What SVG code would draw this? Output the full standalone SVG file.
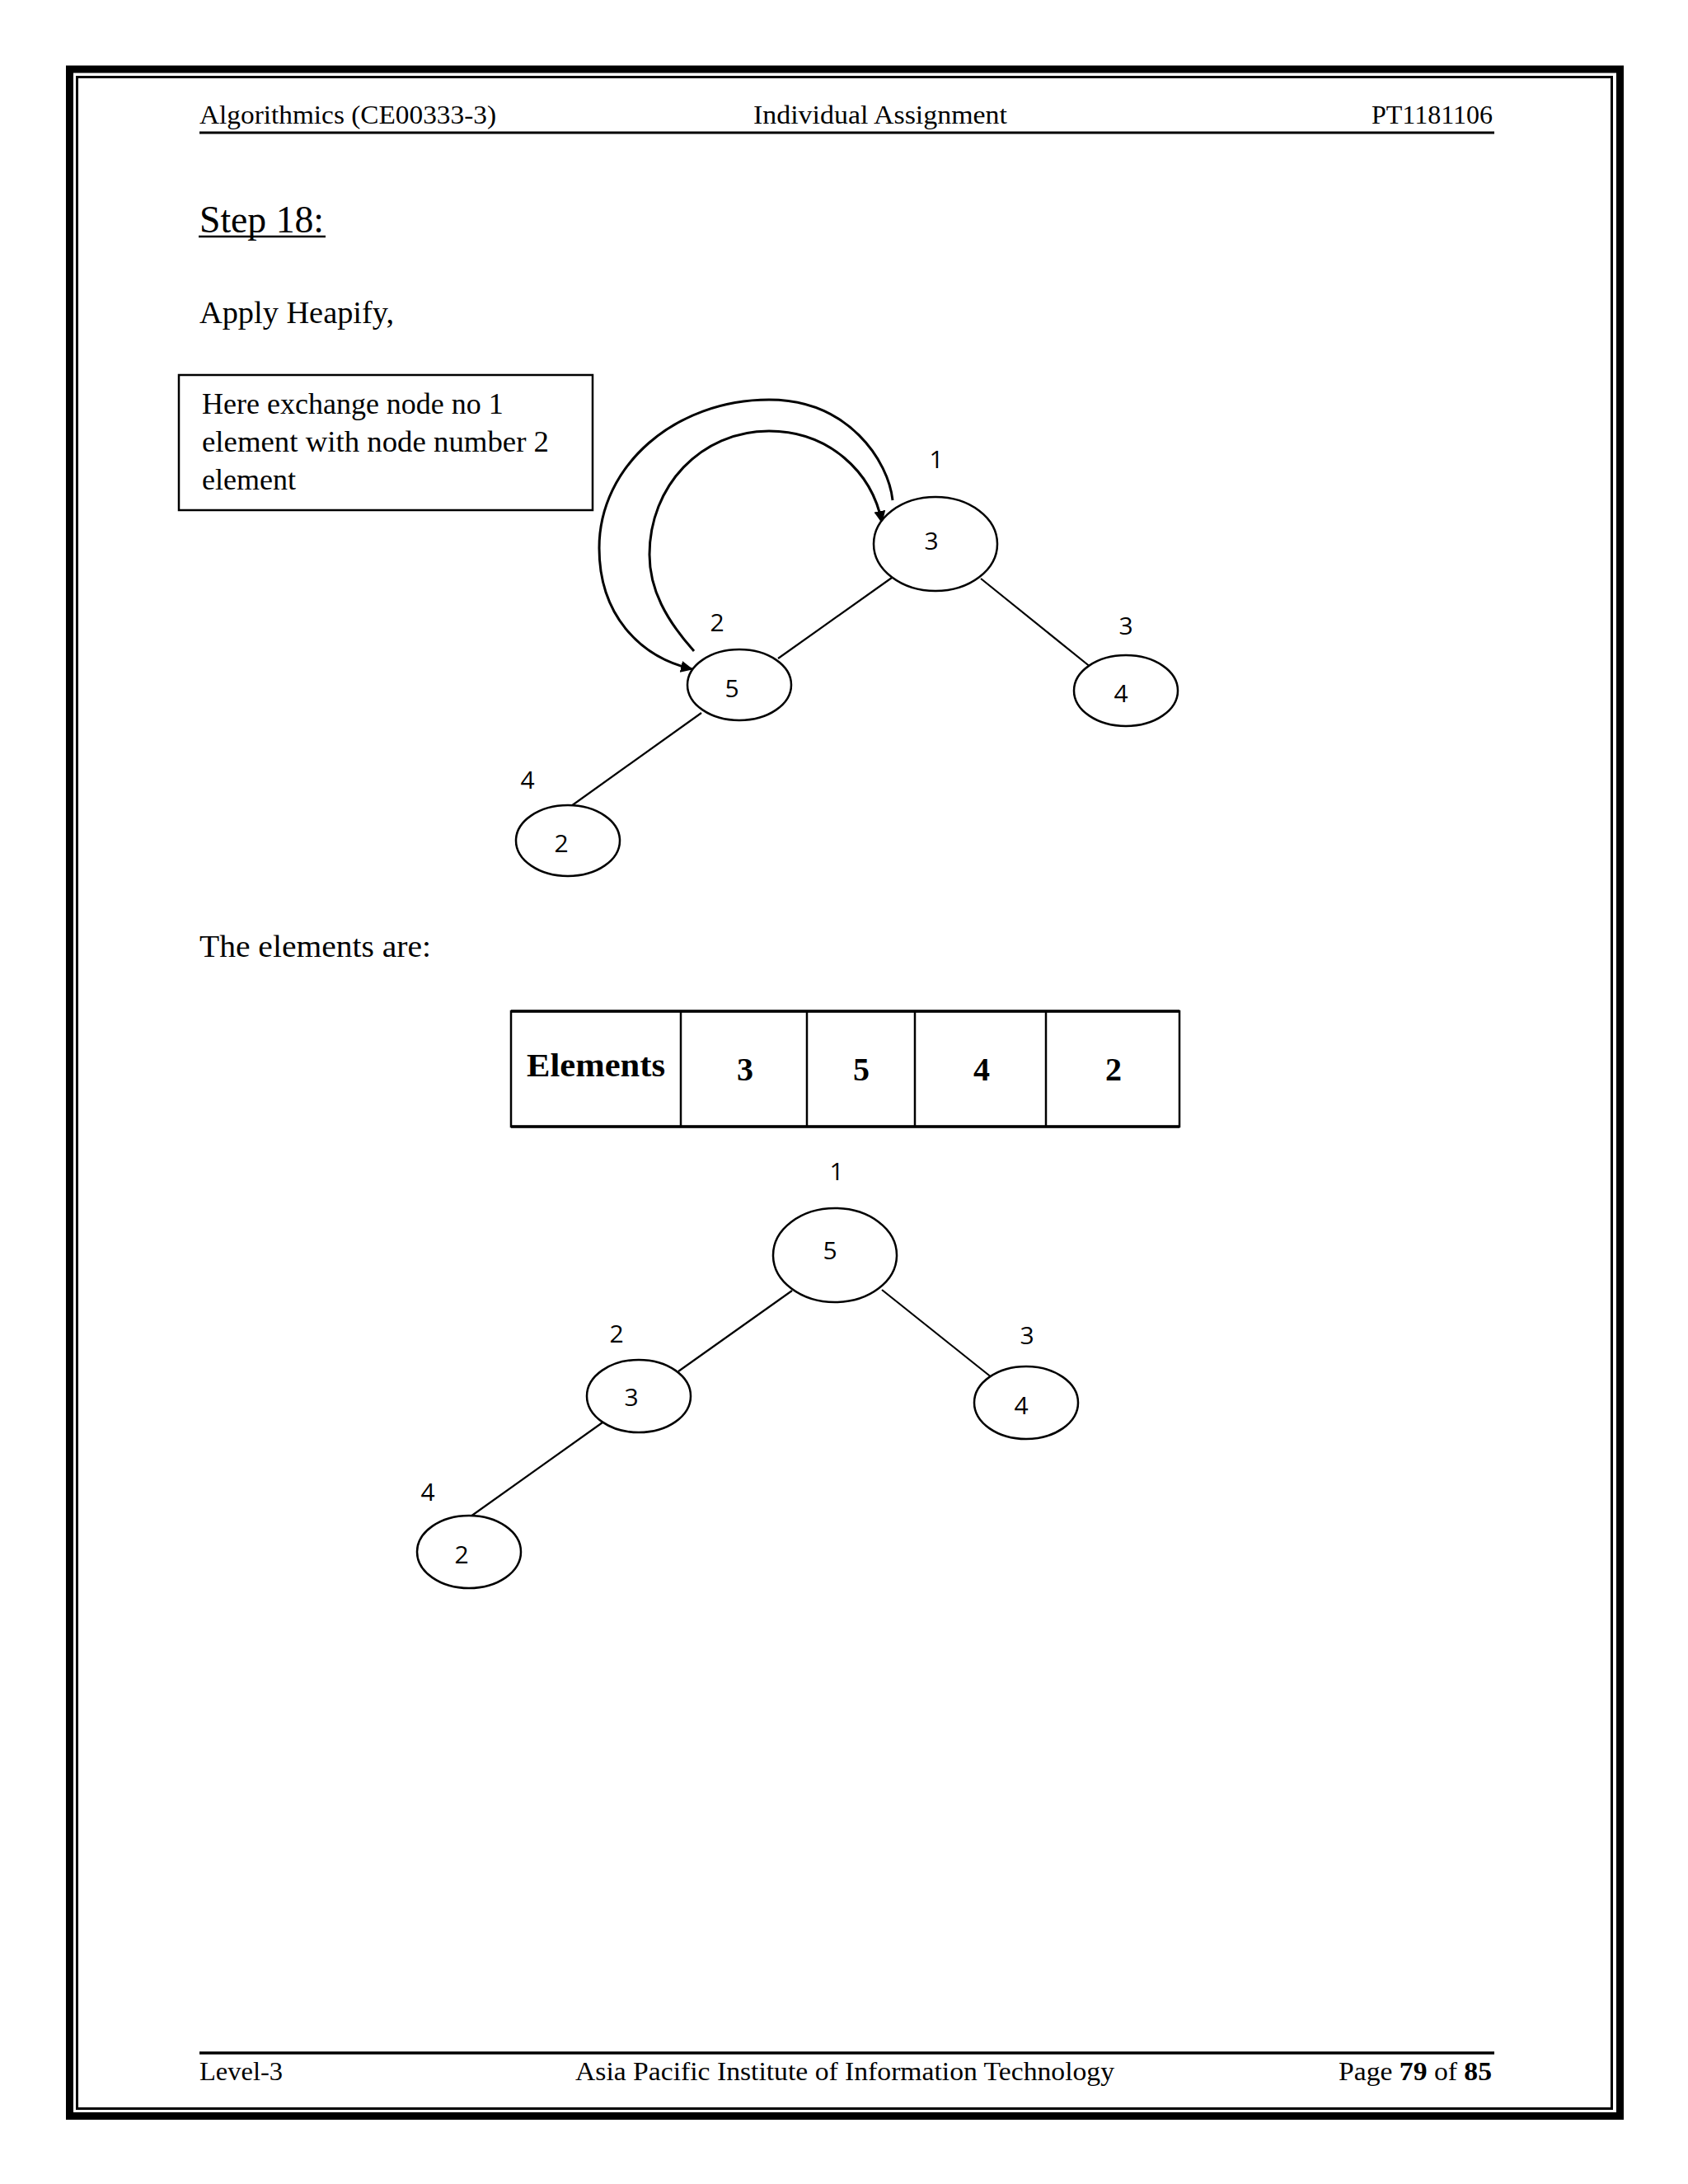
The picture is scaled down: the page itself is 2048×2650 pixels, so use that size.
<svg xmlns="http://www.w3.org/2000/svg" width="2048" height="2650" viewBox="0 0 2048 2650">
<style>
.serif{font-family:"Liberation Serif","Times New Roman",serif;fill:#000}
.sans{font-family:"Open Sans","Liberation Sans",sans-serif;fill:#000;font-size:30px;text-anchor:middle}
.node{fill:#fff;stroke:#000;stroke-width:2.5}
.edge{stroke:#000;stroke-width:2.2;fill:none}
.arc{stroke:#000;stroke-width:3;fill:none;marker-end:url(#ah)}
.cell{fill:none;stroke:#000;stroke-width:2.5}
.tnum{font-family:"Liberation Serif","DejaVu Serif",serif;font-weight:bold;font-size:40px;text-anchor:middle}
</style>
<defs>
<marker id="ah" markerUnits="userSpaceOnUse" markerWidth="16" markerHeight="14" refX="14" refY="7" orient="auto">
<path d="M0,0 L15,7 L0,14 z" fill="#000"/>
</marker>
</defs>
<rect width="2048" height="2650" fill="#fff"/>
<g id="page-border">
<rect x="84.5" y="84" width="1881" height="2483.5" fill="none" stroke="#000" stroke-width="9"/>
<rect x="93.5" y="93.5" width="1862" height="2465" fill="none" stroke="#000" stroke-width="3"/>
</g>
<g id="header">
<text class="serif" x="242" y="150" font-size="32" textLength="360" lengthAdjust="spacingAndGlyphs">Algorithmics (CE00333-3)</text>
<text class="serif" x="914" y="150" font-size="32" textLength="308" lengthAdjust="spacingAndGlyphs">Individual Assignment</text>
<text class="serif" x="1664" y="150" font-size="32" textLength="147" lengthAdjust="spacingAndGlyphs">PT1181106</text>
<line x1="242" y1="161" x2="1813" y2="161" stroke="#000" stroke-width="3"/>
</g>
<g id="title">
<text class="serif" x="242" y="282" font-size="46" textLength="151" lengthAdjust="spacingAndGlyphs">Step 18:</text>
<line x1="241" y1="287" x2="395" y2="287" stroke="#000" stroke-width="2.5"/>
<text class="serif" x="242" y="392" font-size="38" textLength="236" lengthAdjust="spacingAndGlyphs">Apply  Heapify,</text>
</g>
<g id="note">
<rect x="217" y="455" width="502" height="164" fill="none" stroke="#000" stroke-width="2.5"/>
<text class="serif" x="245" y="502" font-size="36">Here exchange node no 1</text>
<text class="serif" x="245" y="548" font-size="36" textLength="421" lengthAdjust="spacingAndGlyphs">element with node number 2</text>
<text class="serif" x="245" y="594" font-size="36">element</text>
</g>
<g id="connectors">
<line class="edge" x1="1082" y1="701" x2="944" y2="799"/>
<line class="edge" x1="1190" y1="702" x2="1324" y2="810"/>
<line class="edge" x1="851" y1="865" x2="693" y2="978"/>
<path class="arc" d="M1083,607 C1078,560 1030,485 933,485 C819,485 727,565 727,665 C727,745 775,797 840,812"/>
<path class="arc" d="M842,790 C808,752 788,715 788,673 C788,590 850,523 933,523 C1005,523 1058,572 1070,634"/>
<line class="edge" x1="961" y1="1566" x2="823" y2="1664"/>
<line class="edge" x1="1070" y1="1565" x2="1204" y2="1672"/>
<line class="edge" x1="731" y1="1726" x2="571" y2="1840"/>
</g>
<g id="t1-n1">
<ellipse class="node" cx="1135" cy="660" rx="75" ry="57"/>
<text class="sans" x="1130" y="667">3</text>
<text class="sans" x="1136" y="568">1</text>
</g>
<g id="t1-n2">
<ellipse class="node" cx="897" cy="831" rx="63" ry="43"/>
<text class="sans" x="888" y="846">5</text>
<text class="sans" x="870" y="766">2</text>
</g>
<g id="t1-n3">
<ellipse class="node" cx="1366" cy="838" rx="63" ry="43"/>
<text class="sans" x="1360" y="852">4</text>
<text class="sans" x="1366" y="770">3</text>
</g>
<g id="t1-n4">
<ellipse class="node" cx="689" cy="1020" rx="63" ry="43"/>
<text class="sans" x="681" y="1034">2</text>
<text class="sans" x="640" y="957">4</text>
</g>
<g id="elements-text">
<text class="serif" x="242" y="1161" font-size="38" textLength="281" lengthAdjust="spacingAndGlyphs">The  elements  are:</text>
</g>
<g id="table">
<rect class="cell" x="620" y="1227" width="811" height="140"/>
<line x1="620" y1="1227" x2="1431" y2="1227" stroke="#000" stroke-width="3.5"/>
<line x1="620" y1="1367" x2="1431" y2="1367" stroke="#000" stroke-width="3.5"/>
<line class="cell" x1="826" y1="1227" x2="826" y2="1367"/>
<line class="cell" x1="979" y1="1227" x2="979" y2="1367"/>
<line class="cell" x1="1110" y1="1227" x2="1110" y2="1367"/>
<line class="cell" x1="1269" y1="1227" x2="1269" y2="1367"/>
<text class="tnum" x="723" y="1306" font-size="37" textLength="168" lengthAdjust="spacingAndGlyphs">Elements</text>
<text class="tnum" x="904" y="1311">3</text>
<text class="tnum" x="1045" y="1311">5</text>
<text class="tnum" x="1191" y="1311">4</text>
<text class="tnum" x="1351" y="1311">2</text>
</g>
<g id="t2-n1">
<ellipse class="node" cx="1013" cy="1523" rx="75" ry="57"/>
<text class="sans" x="1007" y="1528">5</text>
<text class="sans" x="1015" y="1432">1</text>
</g>
<g id="t2-n2">
<ellipse class="node" cx="775" cy="1694" rx="63" ry="44"/>
<text class="sans" x="766" y="1706">3</text>
<text class="sans" x="748" y="1629">2</text>
</g>
<g id="t2-n3">
<ellipse class="node" cx="1245" cy="1702" rx="63" ry="44"/>
<text class="sans" x="1239" y="1716">4</text>
<text class="sans" x="1246" y="1631">3</text>
</g>
<g id="t2-n4">
<ellipse class="node" cx="569" cy="1883" rx="63" ry="44"/>
<text class="sans" x="560" y="1897">2</text>
<text class="sans" x="519" y="1821">4</text>
</g>
<g id="footer">
<line x1="242" y1="2491" x2="1813" y2="2491" stroke="#000" stroke-width="3.5"/>
<text class="serif" x="242" y="2524" font-size="32" textLength="101" lengthAdjust="spacingAndGlyphs">Level-3</text>
<text class="serif" x="698" y="2524" font-size="32" textLength="654" lengthAdjust="spacingAndGlyphs">Asia Pacific Institute of Information Technology</text>
<text class="serif" x="1624" y="2524" font-size="32" textLength="186" lengthAdjust="spacingAndGlyphs">Page <tspan font-weight="bold">79</tspan> of <tspan font-weight="bold">85</tspan></text>
</g>
</svg>
